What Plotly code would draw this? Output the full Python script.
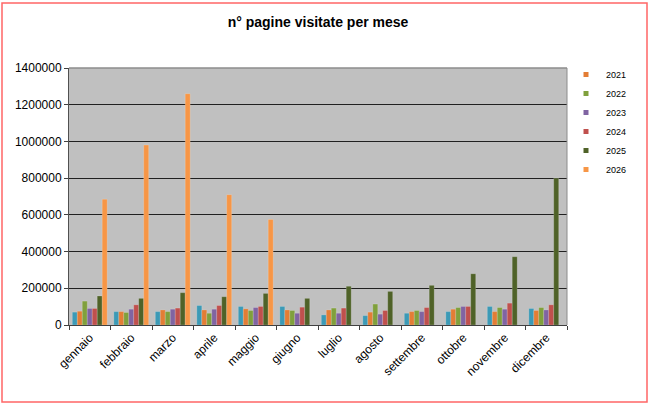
import plotly.graph_objects as go

mesi = ["gennaio", "febbraio", "marzo", "aprile", "maggio", "giugno", "luglio",
        "agosto", "settembre", "ottobre", "novembre", "dicembre"]

v2020 = [70000, 73000, 73000, 106000, 101000, 101000, 55000, 51000, 64000, 73000, 101000, 90000]
v2021 = [75000, 73000, 82000, 82000, 88000, 82000, 82000, 70000, 73000, 86000, 73000, 79000]
v2022 = [130000, 68000, 73000, 64000, 79000, 79000, 92000, 114000, 79000, 95000, 95000, 95000]
v2023 = [90000, 86000, 86000, 86000, 95000, 64000, 64000, 59000, 73000, 101000, 86000, 82000]
v2024 = [90000, 110000, 92000, 106000, 101000, 97000, 92000, 79000, 95000, 101000, 119000, 110000]
v2025 = [158000, 145000, 176000, 154000, 172000, 145000, 211000, 183000, 216000, 279000, 372000, 800000]
v2026 = [685000, 980000, 1260000, 710000, 575000, None, None, None, None, None, None, None]

serie = [
    ("2020", v2020, "#3C9AB6", False),
    ("2021", v2021, "#E37D35", True),
    ("2022", v2022, "#80A03C", True),
    ("2023", v2023, "#8064A2", True),
    ("2024", v2024, "#C0504D", True),
    ("2025", v2025, "#4F6228", True),
    ("2026", v2026, "#F79646", True),
]

fig = go.Figure()
for nome, valori, colore, leg in serie:
    fig.add_trace(go.Bar(x=mesi, y=valori, name=nome, marker_color=colore,
                         marker_line=dict(color="rgba(255,255,255,0.35)", width=0.5),
                         showlegend=False))
# small square legend markers, like the spreadsheet legend
for nome, valori, colore, leg in serie:
    if leg:
        fig.add_trace(go.Scatter(x=[None], y=[None], name=nome, mode="markers",
                                 marker=dict(symbol="square", size=5, color=colore)))

# plot area in pixels
L, R, T, B = 69, 567, 68, 325
W, H = 650, 406
pw, ph = R - L, B - T

def px_x(x):
    return (x - L) / pw

def px_y(y):
    return (B - y) / ph

fig.update_layout(
    width=W, height=H,
    margin=dict(l=L, r=W - R, t=T, b=H - B, pad=0, autoexpand=False),
    paper_bgcolor="white",
    plot_bgcolor="#C0C0C0",
    font=dict(family="Liberation Sans, Arial, sans-serif", color="black", size=12),
    barmode="group",
    bargap=0.16,
    bargroupgap=0,
    title=dict(text="<b>n° pagine visitate per mese</b>", x=318 / W, xanchor="center",
               y=1 - 22 / H, yanchor="middle", font=dict(size=14)),
    legend=dict(x=px_x(566), y=px_y(60), xanchor="left", yanchor="top",
                font=dict(size=9), bgcolor="rgba(0,0,0,0)", traceorder="normal",
                itemwidth=30, tracegroupgap=0),
    xaxis=dict(tickangle=-45, ticks="outside", tickson="boundaries", ticklen=4,
               tickcolor="#404040", showline=True, linecolor="#404040", mirror=False,
               tickfont=dict(size=12), automargin=False),
    yaxis=dict(range=[0, 1400000], dtick=200000, ticks="outside", ticklen=4,
               tickcolor="#404040", showgrid=True, gridcolor="#202020", gridwidth=1,
               showline=True, linecolor="#505050", tickformat="d",
               tickfont=dict(size=12), zeroline=False, automargin=False),
    shapes=[
        dict(type="line", xref="paper", yref="paper",
             x0=1, x1=1, y0=0, y1=1, line=dict(color="#8C8C8C", width=1)),
        dict(type="line", xref="paper", yref="paper",
             x0=0, x1=1, y0=1, y1=1, line=dict(color="#8C8C8C", width=1.5)),
        dict(type="rect", xref="paper", yref="paper",
             x0=px_x(2), x1=px_x(647), y0=px_y(402), y1=px_y(3),
             line=dict(color="#FF6666", width=1.5)),
    ],
)

# the page is photographed from its top-left corner, so drop the body margin
fig.write_html("out.html", config={"displayModeBar": False},
               post_script="document.body.style.margin='0';")
